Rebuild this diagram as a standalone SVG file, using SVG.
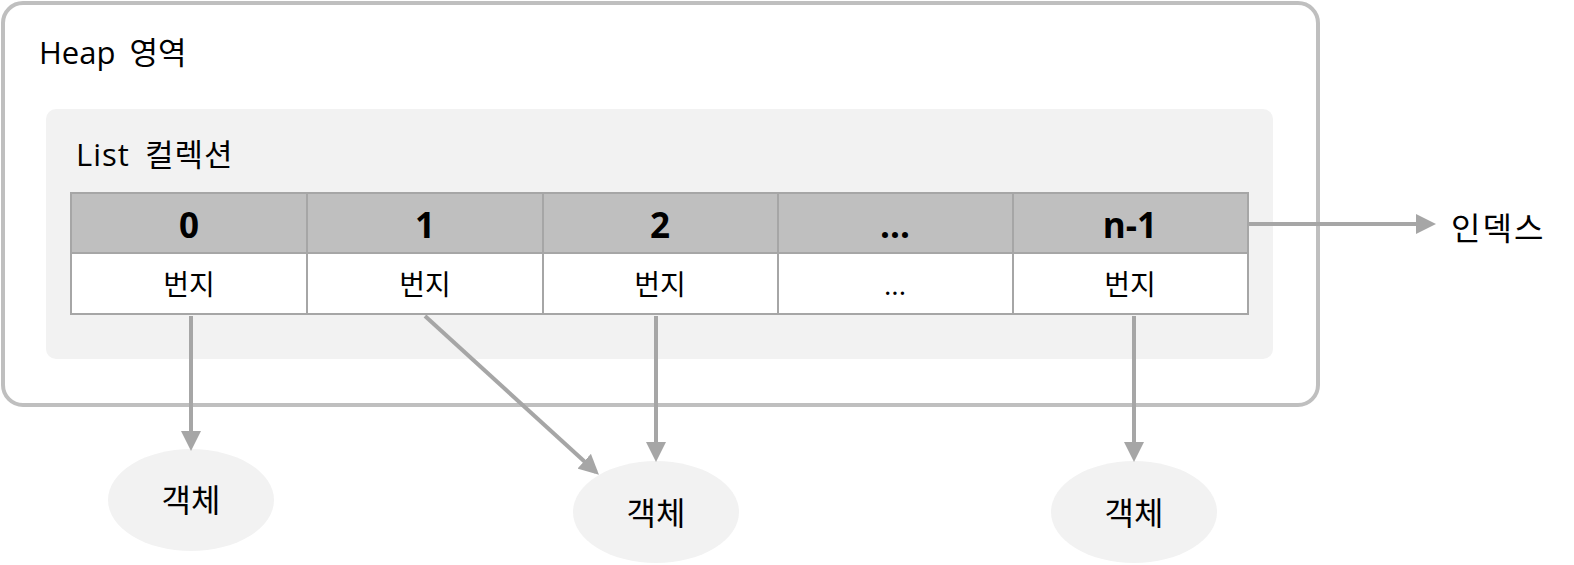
<svg xmlns="http://www.w3.org/2000/svg" width="1574" height="565" viewBox="0 0 1574 565">
<style>
text{font-family:"Open Sans","Noto Sans CJK KR",sans-serif;fill:#000}
.hd{font-size:35px;font-weight:bold;text-anchor:middle}
.cell{font-size:28px;text-anchor:middle}
.ell{font-size:32px;text-anchor:middle}
.conn{stroke:#a6a6a6;stroke-width:4;fill:none}
</style>
<defs>
<marker id="ah" markerWidth="5" markerHeight="5" refX="4" refY="2.5" orient="auto" markerUnits="strokeWidth">
<path d="M0,0 L5,2.5 L0,5 z" fill="#a6a6a6"/>
</marker>
</defs>
<g id="heap">
<rect x="3" y="3" width="1315" height="402" rx="20" fill="#fff" stroke="#bfbfbf" stroke-width="4"/>
<text x="39" y="64" font-size="31" word-spacing="6">Heap 영역</text>
</g>
<g id="list">
<rect x="46" y="109" width="1227" height="250" rx="10" fill="#f2f2f2"/>
<text x="76" y="166" font-size="31" word-spacing="6" letter-spacing="1">List 컬렉션</text>
</g>
<g id="table">
<rect x="71" y="193" width="1177" height="60" fill="#bfbfbf" stroke="#a6a6a6" stroke-width="2"/>
<rect x="71" y="253" width="1177" height="61" fill="#fff" stroke="#a6a6a6" stroke-width="2"/>
<g stroke="#a6a6a6" stroke-width="2">
<line x1="307" y1="193" x2="307" y2="314"/>
<line x1="543" y1="193" x2="543" y2="314"/>
<line x1="778" y1="193" x2="778" y2="314"/>
<line x1="1013" y1="193" x2="1013" y2="314"/>
</g>
<text class="hd" x="189" y="238">0</text>
<text class="hd" x="425" y="238">1</text>
<text class="hd" x="660" y="238">2</text>
<text class="hd" x="895" y="238">...</text>
<text class="hd" x="1130" y="238">n-1</text>
<text class="cell" x="189" y="295">번지</text>
<text class="cell" x="425" y="295">번지</text>
<text class="cell" x="660" y="295">번지</text>
<text class="cell" x="895" y="295">...</text>
<text class="cell" x="1130" y="295">번지</text>
</g>
<g id="obj1">
<ellipse cx="191" cy="500" rx="83" ry="51" fill="#f2f2f2"/>
<text class="ell" x="191" y="512">객체</text>
</g>
<g id="obj2">
<ellipse cx="656" cy="512" rx="83" ry="51" fill="#f2f2f2"/>
<text class="ell" x="656" y="525">객체</text>
</g>
<g id="obj3">
<ellipse cx="1134" cy="512" rx="83" ry="51" fill="#f2f2f2"/>
<text class="ell" x="1134" y="525">객체</text>
</g>
<g id="index-label">
<text x="1451" y="240" font-size="32" letter-spacing="2">인덱스</text>
</g>
<g id="connectors">
<line class="conn" x1="191" y1="316" x2="191" y2="447" marker-end="url(#ah)"/>
<line class="conn" x1="425" y1="316" x2="596" y2="472" marker-end="url(#ah)"/>
<line class="conn" x1="656" y1="316" x2="656" y2="458" marker-end="url(#ah)"/>
<line class="conn" x1="1134" y1="316" x2="1134" y2="458" marker-end="url(#ah)"/>
<line class="conn" x1="1248" y1="224" x2="1432" y2="224" marker-end="url(#ah)"/>
</g>
</svg>
